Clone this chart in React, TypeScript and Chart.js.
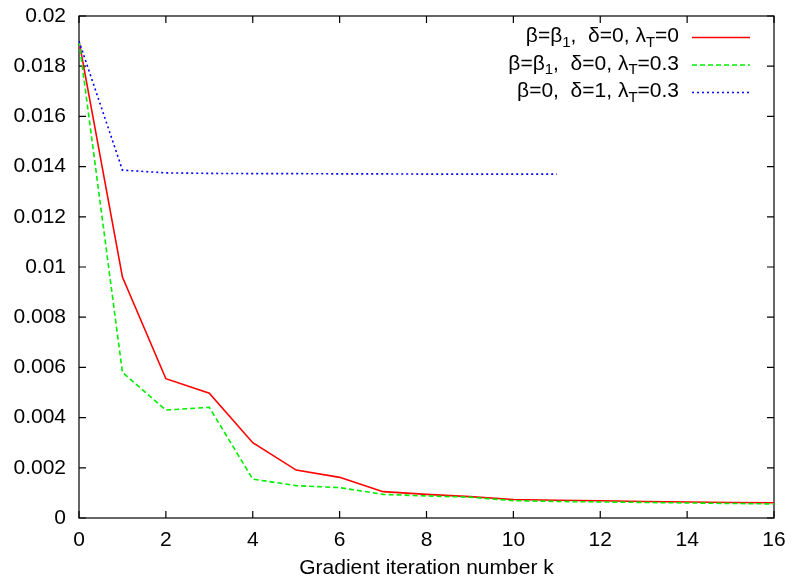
import React, { useEffect, useRef } from "react";
import { Chart, registerables } from "chart.js";

Chart.register(...registerables);

const kValues = [0, 1, 2, 3, 4, 5, 6, 7, 8, 9, 10, 11, 12, 13, 14, 15, 16];
const redSeries = [0.019, 0.0096, 0.00555, 0.00497, 0.003, 0.00191, 0.00162, 0.00105, 0.00094, 0.00085, 0.00074, 0.00071, 0.00069, 0.00066, 0.00064, 0.00062, 0.00061];
const greenSeries = [0.019, 0.0058, 0.0043, 0.00441, 0.00155, 0.00129, 0.00121, 0.00094, 0.00088, 0.00083, 0.00069, 0.00066, 0.00064, 0.00062, 0.0006, 0.00058, 0.00056];
const blueSeries = [0.019, 0.01386, 0.01375, 0.01373, 0.01372, 0.01372, 0.01371, 0.01371, 0.0137, 0.0137, 0.0137, 0.0137];

// legend parts: [text, isSubscript]
const legendRed: [string, boolean][] = [["β=β", false], ["1", true], [",  δ=0, λ", false], ["T", true], ["=0", false]];
const legendGreen: [string, boolean][] = [["β=β", false], ["1", true], [",  δ=0, λ", false], ["T", true], ["=0.3", false]];
const legendBlue: [string, boolean][] = [["β=0,  δ=1, λ", false], ["T", true], ["=0.3", false]];

const FONT = "'Liberation Sans', Arial, Helvetica, sans-serif";
const FS = 21;

function toPoints(ys: number[]) {
  return ys.map((y, i) => ({ x: kValues[i], y }));
}

const framePlugin = {
  id: "frame",
  beforeDatasetsDraw(chart: any) {
    const { ctx, chartArea } = chart;
    const { left, right, top, bottom } = chartArea;
    const xs = chart.scales.x;
    const ys = chart.scales.y;
    ctx.save();
    ctx.strokeStyle = "#000";
    ctx.lineWidth = 1.2;
    ctx.strokeRect(left, top, right - left, bottom - top);
    const tl = 7;
    ctx.beginPath();
    xs.ticks.forEach((t: any) => {
      const px = xs.getPixelForValue(t.value);
      ctx.moveTo(px, bottom);
      ctx.lineTo(px, bottom - tl);
      ctx.moveTo(px, top);
      ctx.lineTo(px, top + tl);
    });
    ys.ticks.forEach((t: any) => {
      const py = ys.getPixelForValue(t.value);
      ctx.moveTo(left, py);
      ctx.lineTo(left + tl, py);
      ctx.moveTo(right, py);
      ctx.lineTo(right - tl, py);
    });
    ctx.stroke();
    ctx.restore();
  },
};

function drawLegendRow(ctx: CanvasRenderingContext2D, parts: [string, boolean][], xRight: number, y: number) {
  const mainFont = `${FS}px ${FONT}`;
  const subFont = `15px ${FONT}`;
  let total = 0;
  parts.forEach(([t, sub]) => {
    ctx.font = sub ? subFont : mainFont;
    total += ctx.measureText(t).width;
  });
  let x = xRight - total;
  ctx.textBaseline = "middle";
  ctx.textAlign = "left";
  ctx.fillStyle = "#000";
  parts.forEach(([t, sub]) => {
    ctx.font = sub ? subFont : mainFont;
    ctx.fillText(t, x, sub ? y + 6 : y);
    x += ctx.measureText(t).width;
  });
}

const legendPlugin = {
  id: "customLegend",
  afterDraw(chart: any) {
    const { ctx } = chart;
    const textRight = 679;
    const lineL = 692;
    const lineR = 750;
    const rows = [
      { parts: legendRed, y: 37.5, color: "#ff0000", dash: [] as number[] },
      { parts: legendGreen, y: 65, color: "#00ee00", dash: [5, 3] },
      { parts: legendBlue, y: 92.5, color: "#0000ff", dash: [2, 3] },
    ];
    ctx.save();
    rows.forEach((r) => {
      drawLegendRow(ctx, r.parts, textRight, r.y - 1);
      ctx.beginPath();
      ctx.setLineDash(r.dash);
      ctx.strokeStyle = r.color;
      ctx.lineWidth = 1.6;
      ctx.moveTo(lineL, r.y);
      ctx.lineTo(lineR, r.y);
      ctx.stroke();
    });
    ctx.restore();
  },
};

export default function App() {
  const ref = useRef<HTMLCanvasElement | null>(null);
  useEffect(() => {
    if (!ref.current) return;
    const chart = new Chart(ref.current, {
      type: "line",
      data: {
        datasets: [
          {
            label: "red",
            data: toPoints(redSeries),
            borderColor: "#ff0000",
            borderWidth: 1.6,
            pointRadius: 0,
            tension: 0,
            fill: false,
            order: 3,
          },
          {
            label: "green",
            data: toPoints(greenSeries),
            borderColor: "#00ee00",
            borderWidth: 1.6,
            borderDash: [5, 3],
            pointRadius: 0,
            tension: 0,
            fill: false,
            order: 2,
          },
          {
            label: "blue",
            data: toPoints(blueSeries),
            borderColor: "#0000ff",
            borderWidth: 1.6,
            borderDash: [2, 3],
            pointRadius: 0,
            tension: 0,
            fill: false,
            order: 1,
          },
        ],
      },
      options: {
        animation: false,
        responsive: false,
        layout: { padding: { top: 16, right: 18, left: 0, bottom: 0 } },
        plugins: { legend: { display: false }, tooltip: { enabled: false } },
        scales: {
          x: {
            type: "linear",
            min: 0,
            max: 16,
            grid: { display: false, drawTicks: false },
            border: { display: false },
            ticks: {
              stepSize: 2,
              color: "#000",
              font: { family: FONT, size: FS },
              padding: 10,
              maxRotation: 0,
            },
            title: {
              display: true,
              text: "Gradient iteration number k",
              color: "#000",
              font: { family: FONT, size: FS },
              padding: { top: 0, bottom: 5 },
            },
            afterFit(scale: any) {
              scale.height = 68;
              scale.paddingLeft = 0;
              scale.paddingRight = 0;
            },
          },
          y: {
            type: "linear",
            min: 0,
            max: 0.02,
            grid: { display: false, drawTicks: false },
            border: { display: false },
            ticks: {
              stepSize: 0.002,
              color: "#000",
              font: { family: FONT, size: FS },
              padding: 13,
              callback: (v: any) => String(Number(Number(v).toFixed(4))),
            },
            afterFit(scale: any) {
              scale.width = 79;
              scale.paddingTop = 0;
              scale.paddingBottom = 0;
            },
          },
        },
      },
      plugins: [framePlugin, legendPlugin],
    });
    return () => chart.destroy();
  }, []);
  return (
    <div style={{ position: "fixed", left: 0, top: 0, width: 792, height: 586, background: "#fff" }}>
      <canvas ref={ref} width={792} height={586} />
    </div>
  );
}
